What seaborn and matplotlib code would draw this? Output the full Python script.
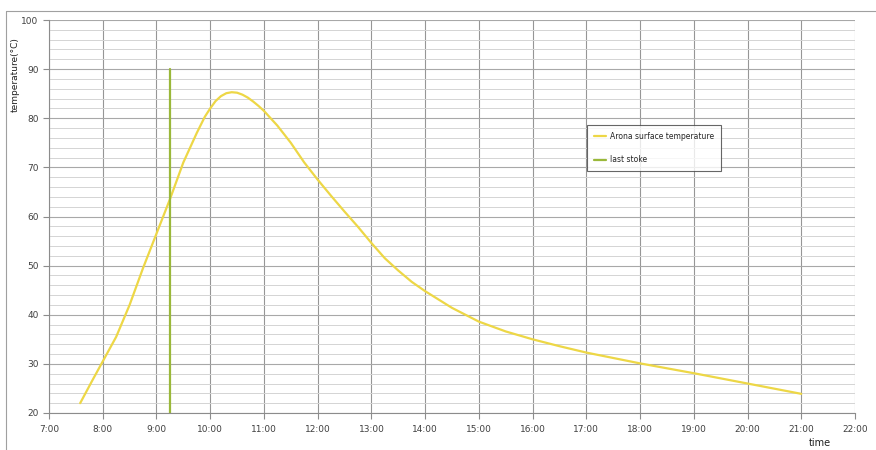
import matplotlib
matplotlib.use("Agg")
import matplotlib.pyplot as plt
import seaborn as sns
import pandas as pd
from matplotlib.lines import Line2D

# data (time in hours, temperature in °C)
time_h = [7.58, 7.8, 8.0, 8.25, 8.5, 8.75, 9.0, 9.25, 9.5, 9.75, 9.9, 10.0, 10.1, 10.2, 10.3, 10.4,
          10.5, 10.6, 10.7, 10.8, 10.9, 11.0, 11.25, 11.5, 11.75, 12.0, 12.25, 12.5, 12.75, 13.0,
          13.25, 13.5, 13.75, 14.0, 14.5, 15.0, 15.5, 16.0, 16.5, 17.0, 17.5, 18.0, 19.0, 20.0, 21.0]
temperature = [22.0, 26.5, 30.5, 35.5, 42.0, 49.5, 56.5, 63.5, 71.0, 77.0, 80.3, 82.0, 83.5, 84.5,
               85.1, 85.3, 85.2, 84.8, 84.2, 83.4, 82.5, 81.5, 78.5, 75.0, 71.0, 67.5, 64.2, 61.0,
               57.9, 54.6, 51.5, 49.0, 46.7, 44.8, 41.4, 38.6, 36.6, 35.0, 33.6, 32.3, 31.2, 30.1,
               28.1, 26.0, 23.9]
last_stoke_time = [9.25, 9.25]
last_stoke_temp = [20, 90]
x_ticks = list(range(7, 23))
x_tick_labels = [f"{h}:00" for h in x_ticks]
y_ticks = list(range(20, 101, 10))

sns.set_style("white")
plt.rcParams['font.family'] = ['DejaVu Sans']

fig = plt.figure(figsize=(8.76, 4.5), dpi=100)
ax = fig.add_axes([49/876, 1-413/450, (855-49)/876, (413-20)/450])

df = pd.DataFrame({"time": time_h, "temp": temperature})
sns.lineplot(data=df, x="time", y="temp", ax=ax, color="#EDD746", lw=1.6,
             sort=False, estimator=None, label="Arona surface temperature")
sdf = pd.DataFrame({"time": last_stoke_time, "temp": last_stoke_temp})
sns.lineplot(data=sdf, x="time", y="temp", ax=ax, color="#9AB83A", lw=1.6,
             sort=False, estimator=None, label="last stoke")

ax.set_xlim(7, 22)
ax.set_ylim(20, 100)
ax.set_xticks(x_ticks)
ax.set_xticklabels(x_tick_labels)
ax.set_yticks(y_ticks)
ax.set_yticks(list(range(20, 101, 2)), minor=True)
ax.grid(True, which="major", axis="x", color="#969696", lw=0.8)
ax.grid(True, which="major", axis="y", color="#A8A8A8", lw=0.8)
ax.grid(True, which="minor", axis="y", color="#D4D4D4", lw=0.7)
ax.set_axisbelow(True)
for s in ["top", "right"]:
    ax.spines[s].set_visible(False)
for s in ["left", "bottom"]:
    ax.spines[s].set_color("#8C8C8C")
    ax.spines[s].set_linewidth(0.8)
ax.tick_params(axis="x", which="major", length=4, color="#8C8C8C", labelsize=6.5,
               labelcolor="#404040", pad=5, bottom=True)
ax.tick_params(axis="y", which="major", length=4, color="#8C8C8C", labelsize=6.5,
               labelcolor="#404040", left=True)
ax.tick_params(axis="y", which="minor", length=0)
ax.set_xlabel("")
ax.set_ylabel("")

fig.text(15/876, 1-75/450, "temperature(°C)", rotation=90, ha="center", va="center",
         fontsize=6.5, color="#202020",
         bbox=dict(facecolor="white", edgecolor="none", pad=2))
fig.text(820/876, 1-443/450, "time", ha="center", va="center", fontsize=7, color="#202020")

# chart area border
fig.add_artist(Line2D([6/876, 1.0], [1-11/450, 1-11/450], transform=fig.transFigure,
                      color="#A0A0A0", lw=0.8, zorder=0))
fig.add_artist(Line2D([6/876, 6/876], [0, 1-11/450], transform=fig.transFigure,
                      color="#A0A0A0", lw=0.8, zorder=0))

handles, labels = ax.get_legend_handles_labels()
leg = ax.legend(handles, labels, loc="upper left", bbox_to_anchor=((587-49)/806, (413-125)/393),
                fontsize=5.5, frameon=True, fancybox=False, edgecolor="#404040",
                handlelength=1.6, labelspacing=1.9, borderpad=0.9, handletextpad=0.5,
                borderaxespad=0)
leg.get_frame().set_linewidth(0.8)
leg.set_zorder(5)

fig.savefig("out.png", dpi=100)
